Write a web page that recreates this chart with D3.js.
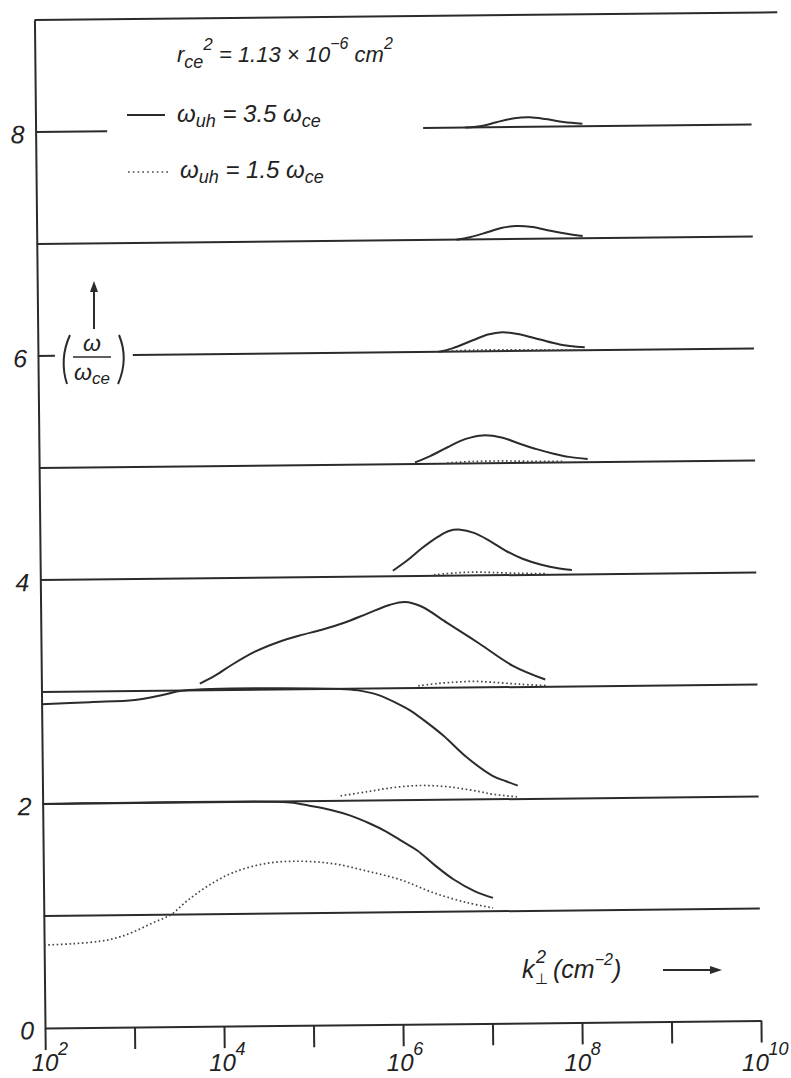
<!DOCTYPE html>
<html>
<head>
<meta charset="utf-8">
<script src="https://cdn.jsdelivr.net/npm/d3@7"></script>
<style>
  body { margin: 0; background: #fff; }
  svg { display: block; }
  text { font-family: "Liberation Sans", Arial, sans-serif; font-style: italic; fill: #222; }
</style>
</head>
<body>
<svg id="chart" width="791" height="1078"></svg>
<script>
// ---- axis values (x given as log10 of k⊥² in cm⁻²) ----
const decadeTicks = [2, 3, 4, 5, 6, 7, 8, 9, 10];
const decadeLabels = [2, 4, 6, 8, 10];
const yTickLabels = [0, 2, 4, 6, 8];
const frameTop = 9;
const frameTopEnd = 10.3;

// harmonic baselines ω/ωce = n : [level, from exponent, to exponent]
const baselineSegments = [
  [1, 2, 10], [2, 2, 10], [3, 2, 10], [4, 2, 10], [5, 2, 10],
  [6, 2, 2.19], [6, 3.06, 10], [7, 2, 10], [8, 2, 2.8], [8, 6.33, 10]
];

// ω_uh = 3.5 ω_ce branches: [log10 k⊥², ω/ωce]
const solid1 = [[2.0,2.0],[4.52,2.0],[4.77,1.99],[4.98,1.96],[5.22,1.92],[5.43,1.87],[5.64,1.8],[5.84,1.72],[6.02,1.63],[6.18,1.55],[6.37,1.42],[6.58,1.29],[6.82,1.18],[7.02,1.12]];
const solid2 = [[2.0,2.89],[2.54,2.905],[3.04,2.92],[3.34,2.96],[3.59,3.0],[5.34,3.0],[5.54,2.985],[5.75,2.945],[6.01,2.85],[6.12,2.8],[6.29,2.7],[6.49,2.57],[6.74,2.38],[7.03,2.21],[7.18,2.16],[7.31,2.12]];
const solid3 = [[3.77,3.06],[3.94,3.13],[4.14,3.23],[4.39,3.34],[4.64,3.42],[4.89,3.48],[5.14,3.53],[5.39,3.59],[5.65,3.67],[5.9,3.745],[6.07,3.77],[6.25,3.73],[6.54,3.58],[6.9,3.39],[7.27,3.19],[7.63,3.065]];
const solid4 = [[5.94,4.05],[6.1,4.14],[6.27,4.25],[6.45,4.35],[6.57,4.40],[6.7,4.41],[6.85,4.38],[7.02,4.31],[7.2,4.22],[7.39,4.145],[7.6,4.09],[7.8,4.055],[7.94,4.04]];
const solid5 = [[6.2,5.015],[6.37,5.07],[6.56,5.145],[6.77,5.22],[6.96,5.25],[7.17,5.23],[7.38,5.17],[7.57,5.12],[7.75,5.08],[7.92,5.05],[8.13,5.03]];
const solid6 = [[6.48,6.0],[6.63,6.03],[6.86,6.1],[7.03,6.15],[7.19,6.17],[7.38,6.15],[7.61,6.1],[7.83,6.055],[8.11,6.027]];
const solid7 = [[6.69,7.0],[6.84,7.02],[7.04,7.065],[7.19,7.1],[7.36,7.116],[7.54,7.105],[7.74,7.07],[7.94,7.04],[8.1,7.02]];
const solid8 = [[6.8,8.0],[7.0,8.015],[7.15,8.045],[7.35,8.078],[7.52,8.085],[7.7,8.068],[7.9,8.04],[8.11,8.022]];

// ω_uh = 1.5 ω_ce branches
const dotted1 = [[2.0,0.74],[2.32,0.75],[2.63,0.77],[2.82,0.8],[3.0,0.85],[3.22,0.93],[3.42,1.0],[3.6,1.12],[3.83,1.25],[4.12,1.37],[4.5,1.45],[4.87,1.465],[5.24,1.44],[5.62,1.37],[5.99,1.29],[6.36,1.17],[6.73,1.08],[7.02,1.03]];
const dotted2 = [[5.33,2.045],[5.63,2.08],[5.93,2.115],[6.22,2.13],[6.48,2.12],[6.67,2.1],[6.88,2.07],[7.03,2.045],[7.3,2.02]];
const dotted3 = [[6.21,3.02],[6.44,3.04],[6.64,3.05],[6.82,3.055],[7.04,3.045],[7.34,3.025],[7.65,3.01]];
const dotted4 = [[6.4,4.01],[6.65,4.025],[6.85,4.03],[7.05,4.025],[7.35,4.015],[7.65,4.01]];
const dotted5 = [[6.56,5.008],[6.86,5.018],[7.16,5.02],[7.46,5.015],[7.86,5.01]];
const dotted6 = [[6.53,6.005],[6.88,6.012],[7.28,6.012],[7.68,6.008],[8.08,6.005]];

const solidCurves = [solid1, solid2, solid3, solid4, solid5, solid6, solid7, solid8];
const dottedCurves = [dotted1, dotted2, dotted3, dotted4, dotted5, dotted6];

// ---- drawing ----
const INK = "#2b2b2b";
const svg = d3.select("#chart");
const pow10 = e => Math.pow(10, e);

const x = d3.scaleLog().domain([1e2, 1e10]).range([45, 761]);
const y = d3.scaleLinear().domain([0, 9]).range([1028, 20]);

// the whole plot frame sits slightly tilted on the page
const plot = svg.append("g").attr("transform", "rotate(-0.6,45,1028)");

const line = d3.line()
  .x(d => x(pow10(d[0])))
  .y(d => y(d[1]))
  .curve(d3.curveCatmullRom.alpha(0.5));

// bottom axis with decade ticks pointing down
const xAxis = plot.append("g")
  .attr("transform", `translate(0,${y(0)})`)
  .call(d3.axisBottom(x).tickValues(decadeTicks.map(pow10)).tickSize(22).tickSizeOuter(0).tickFormat(""));
xAxis.selectAll("path,line").attr("stroke", INK).attr("stroke-width", 2);

// left axis
const yAxis = plot.append("g")
  .attr("transform", `translate(${x(1e2)},0)`)
  .call(d3.axisLeft(y).tickValues(yTickLabels).tickSize(0).tickSizeOuter(0).tickPadding(11).tickFormat(d3.format("d")));
yAxis.select(".domain").attr("stroke", INK).attr("stroke-width", 2);
yAxis.selectAll("text")
  .attr("font-size", 25)
  .attr("font-family", "'Liberation Sans', Arial, sans-serif")
  .attr("font-style", "italic")
  .attr("fill", "#222")
  .attr("dy", "0.42em");

// top frame line
plot.append("line")
  .attr("x1", x(1e2)).attr("x2", x(pow10(frameTopEnd)))
  .attr("y1", y(frameTop)).attr("y2", y(frameTop))
  .attr("stroke", INK).attr("stroke-width", 2);

// harmonic baselines
plot.append("g").selectAll("line")
  .data(baselineSegments)
  .join("line")
  .attr("x1", d => x(pow10(d[1])))
  .attr("x2", d => x(pow10(d[2])))
  .attr("y1", d => y(d[0]))
  .attr("y2", d => y(d[0]))
  .attr("stroke", INK).attr("stroke-width", 2);

// dotted branches
plot.append("g").selectAll("path")
  .data(dottedCurves)
  .join("path")
  .attr("d", line)
  .attr("fill", "none")
  .attr("stroke", "#444")
  .attr("stroke-width", 1.7)
  .attr("stroke-dasharray", "1.6,2.6");

// solid branches
plot.append("g").selectAll("path")
  .data(solidCurves)
  .join("path")
  .attr("d", line)
  .attr("fill", "none")
  .attr("stroke", INK)
  .attr("stroke-width", 2);

// decade labels 10^n
const xl = svg.append("g");
decadeLabels.forEach(e => {
  const px = x(pow10(e)) - (e - 2) * 0.7;
  xl.append("text").attr("x", px).attr("y", 1071).attr("text-anchor", "middle")
    .attr("font-size", 24).text("10");
  xl.append("text").attr("x", px + 13).attr("y", 1055)
    .attr("font-size", 18).text(e);
});

// ---- annotations ----
const ann = svg.append("g");

const t1 = ann.append("text").attr("x", 177).attr("y", 62).attr("font-size", 22);
t1.append("tspan").text("r");
t1.append("tspan").attr("dy", 6).attr("font-size", 18).text("ce");
t1.append("tspan").attr("dy", -18).attr("font-size", 17).text("2");
t1.append("tspan").attr("dy", 12).text(" = 1.13 × 10");
t1.append("tspan").attr("dy", -13).attr("font-size", 16).text("−6");
t1.append("tspan").attr("dy", 13).text(" cm");
t1.append("tspan").attr("dy", -13).attr("font-size", 16).text("2");

// legend
ann.append("line").attr("x1", 127).attr("x2", 165).attr("y1", 115).attr("y2", 115)
  .attr("stroke", INK).attr("stroke-width", 2);
const t2 = ann.append("text").attr("x", 177).attr("y", 122).attr("font-size", 24);
t2.append("tspan").text("ω");
t2.append("tspan").attr("dy", 5).attr("font-size", 18).text("uh");
t2.append("tspan").attr("dy", -5).text(" = 3.5 ω");
t2.append("tspan").attr("dy", 5).attr("font-size", 18).text("ce");

ann.append("line").attr("x1", 128).attr("x2", 170).attr("y1", 172).attr("y2", 172)
  .attr("stroke", "#444").attr("stroke-width", 1.7).attr("stroke-dasharray", "1.6,3.2");
const t3 = ann.append("text").attr("x", 180).attr("y", 178).attr("font-size", 24);
t3.append("tspan").text("ω");
t3.append("tspan").attr("dy", 5).attr("font-size", 18).text("uh");
t3.append("tspan").attr("dy", -5).text(" = 1.5 ω");
t3.append("tspan").attr("dy", 5).attr("font-size", 18).text("ce");

// y-axis quantity (ω / ωce) in tall brackets, with upward arrow
ann.append("path").attr("d", "M70,335 Q59,359 67,384")
  .attr("fill", "none").attr("stroke", INK).attr("stroke-width", 2);
ann.append("path").attr("d", "M119,335 Q129,359 118,384")
  .attr("fill", "none").attr("stroke", INK).attr("stroke-width", 2);
ann.append("text").attr("x", 92).attr("y", 351).attr("font-size", 23)
  .attr("text-anchor", "middle").text("ω");
ann.append("line").attr("x1", 73).attr("x2", 111).attr("y1", 357).attr("y2", 357)
  .attr("stroke", INK).attr("stroke-width", 1.6);
const tq = ann.append("text").attr("x", 74).attr("y", 380).attr("font-size", 23);
tq.append("tspan").text("ω");
tq.append("tspan").attr("dy", 4).attr("font-size", 17).text("ce");

ann.append("line").attr("x1", 94).attr("x2", 94).attr("y1", 329).attr("y2", 290)
  .attr("stroke", INK).attr("stroke-width", 2);
ann.append("path").attr("d", "M94,281 L90,292 L98,292 Z").attr("fill", INK);

// x-axis quantity k⊥² (cm⁻²) with rightward arrow
const tk = ann.append("text").attr("x", 522).attr("y", 978).attr("font-size", 25);
tk.append("tspan").text("k");
tk.append("tspan").attr("x", 535).attr("dy", 6).attr("font-size", 15).style("font-style", "normal").text("⊥");
tk.append("tspan").attr("x", 536).attr("dy", -21).attr("font-size", 18).text("2");
tk.append("tspan").attr("dy", 15).text(" (cm");
tk.append("tspan").attr("dy", -13).attr("font-size", 16).text("−2");
tk.append("tspan").attr("dy", 13).text(")");

ann.append("line").attr("x1", 663).attr("x2", 712).attr("y1", 970).attr("y2", 970)
  .attr("stroke", INK).attr("stroke-width", 2);
ann.append("path").attr("d", "M722,970 L710,966 L710,974 Z").attr("fill", INK);
</script>
</body>
</html>
